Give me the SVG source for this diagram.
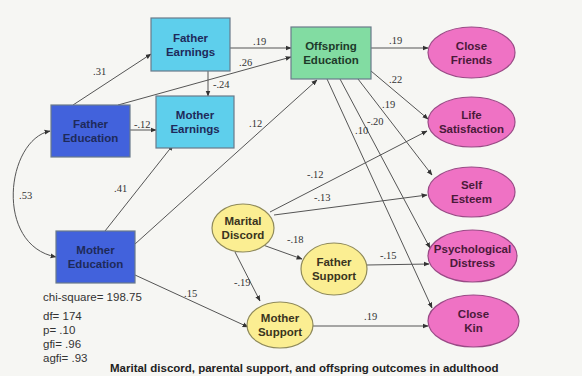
<svg xmlns="http://www.w3.org/2000/svg" width="582" height="376" viewBox="0 0 582 376">
<style>
.bg{fill:#f6f6f3}
.box{stroke:#6a7a8a;stroke-width:1.2}
.cyan{fill:#5ecfec}
.blue{fill:#4262dc}
.green{fill:#82dca2}
.pink{fill:#ef72c4;stroke:#9a4a86;stroke-width:1.2}
.yellow{fill:#fbee92;stroke:#8f8a5a;stroke-width:1.2}
.lbl{font-family:"Liberation Sans",Arial,sans-serif;font-weight:bold;font-size:11.5px;text-anchor:middle}
.dk{fill:#1e2a5a}
.pk{fill:#4a1a3a}
.yl{fill:#3a3420}
.e{fill:none;stroke:#555;stroke-width:1}
.w{font-family:"Liberation Serif","Times New Roman",serif;font-size:10.5px;fill:#333}
.stat{font-family:"Liberation Sans",Arial,sans-serif;font-size:11.5px;fill:#333}
.cap{font-family:"Liberation Sans",Arial,sans-serif;font-weight:bold;font-size:11.5px;fill:#222}
</style>
<defs>
<marker id="ah" viewBox="0 0 10 10" refX="9" refY="5" markerWidth="6" markerHeight="6" orient="auto-start-reverse" markerUnits="userSpaceOnUse">
<path d="M0,1 L10,5 L0,9 Z" fill="#333"/>
</marker>
</defs>
<rect class="bg" x="0" y="0" width="582" height="376"/>

<g id="connectors">
<path class="e" d="M73,105 L151,54" marker-end="url(#ah)"/>
<path class="e" d="M230,48 L291,48" marker-end="url(#ah)"/>
<path class="e" d="M118,105 L291,57" marker-end="url(#ah)"/>
<path class="e" d="M208,71 L208,96" marker-end="url(#ah)"/>
<path class="e" d="M130,130 L156,130" marker-end="url(#ah)"/>
<path class="e" d="M105,231 L173,145" marker-end="url(#ah)"/>
<path class="e" d="M135,244 L317,80" marker-end="url(#ah)"/>
<path class="e" d="M50,131 C6,140 -6,245 56,257" marker-start="url(#ah)" marker-end="url(#ah)"/>
<path class="e" d="M371,48 L428,48" marker-end="url(#ah)"/>
<path class="e" d="M371,71 L428,119" marker-end="url(#ah)"/>
<path class="e" d="M358,79 L432,175" marker-end="url(#ah)"/>
<path class="e" d="M340,79 L430,248" marker-end="url(#ah)"/>
<path class="e" d="M327,79 L432,308" marker-end="url(#ah)"/>
<path class="e" d="M270,212 L427,131" marker-end="url(#ah)"/>
<path class="e" d="M274,215 L427,195" marker-end="url(#ah)"/>
<path class="e" d="M263,245 L302,259" marker-end="url(#ah)"/>
<path class="e" d="M235,252 L260,301" marker-end="url(#ah)"/>
<path class="e" d="M367,265 L429,264" marker-end="url(#ah)"/>
<path class="e" d="M313,326 L428,326" marker-end="url(#ah)"/>
<path class="e" d="M135,275 L248,327" marker-end="url(#ah)"/>
<text class="w" x="93" y="75">.31</text>
<text class="w" x="253" y="45">.19</text>
<text class="w" x="239" y="66">.26</text>
<text class="w" x="213" y="88">-.24</text>
<text class="w" x="134" y="128">-.12</text>
<text class="w" x="249" y="127">.12</text>
<text class="w" x="114" y="192">.41</text>
<text class="w" x="19" y="199">.53</text>
<text class="w" x="389" y="44">.19</text>
<text class="w" x="389" y="83">.22</text>
<text class="w" x="382" y="108">.19</text>
<text class="w" x="367" y="125">-.20</text>
<text class="w" x="355" y="134">.10</text>
<text class="w" x="307" y="178">-.12</text>
<text class="w" x="314" y="201">-.13</text>
<text class="w" x="287" y="243">-.18</text>
<text class="w" x="234" y="286">-.19</text>
<text class="w" x="380" y="259">-.15</text>
<text class="w" x="364" y="320">.19</text>
<text class="w" x="184" y="297">.15</text>
</g>

<g id="father-earnings">
<rect class="box cyan" x="151" y="18" width="79" height="53"/>
<text class="lbl dk" x="190.5" y="42">Father</text>
<text class="lbl dk" x="190.5" y="56">Earnings</text>
</g>
<g id="father-education">
<rect class="box blue" x="51" y="105" width="79" height="52"/>
<text class="lbl dk" x="90.5" y="128">Father</text>
<text class="lbl dk" x="90.5" y="142">Education</text>
</g>
<g id="mother-earnings">
<rect class="box cyan" x="156" y="96" width="78" height="52"/>
<text class="lbl dk" x="195" y="119">Mother</text>
<text class="lbl dk" x="195" y="133">Earnings</text>
</g>
<g id="mother-education">
<rect class="box blue" x="56" y="231" width="79" height="52"/>
<text class="lbl dk" x="95.5" y="254">Mother</text>
<text class="lbl dk" x="95.5" y="268">Education</text>
</g>
<g id="offspring-education">
<rect class="box green" x="291" y="27" width="80" height="52"/>
<text class="lbl" fill="#1e3a2a" x="331" y="50">Offspring</text>
<text class="lbl" fill="#1e3a2a" x="331" y="64">Education</text>
</g>
<g id="close-friends">
<ellipse class="pink" cx="471.5" cy="52.5" rx="43.5" ry="25.5"/>
<text class="lbl pk" x="471.5" y="50">Close</text>
<text class="lbl pk" x="471.5" y="64">Friends</text>
</g>
<g id="life-satisfaction">
<ellipse class="pink" cx="471.5" cy="122" rx="43.5" ry="25"/>
<text class="lbl pk" x="471.5" y="119">Life</text>
<text class="lbl pk" x="471.5" y="133">Satisfaction</text>
</g>
<g id="self-esteem">
<ellipse class="pink" cx="471.5" cy="192" rx="43.5" ry="25"/>
<text class="lbl pk" x="471.5" y="189">Self</text>
<text class="lbl pk" x="471.5" y="203">Esteem</text>
</g>
<g id="psychological-distress">
<ellipse class="pink" cx="472.5" cy="256" rx="44.5" ry="26"/>
<text class="lbl pk" x="472.5" y="253">Psychological</text>
<text class="lbl pk" x="472.5" y="267">Distress</text>
</g>
<g id="close-kin">
<ellipse class="pink" cx="473.5" cy="321" rx="45.5" ry="26"/>
<text class="lbl pk" x="473.5" y="318">Close</text>
<text class="lbl pk" x="473.5" y="332">Kin</text>
</g>
<g id="marital-discord">
<ellipse class="yellow" cx="243" cy="228" rx="31" ry="24"/>
<text class="lbl yl" x="243" y="225">Marital</text>
<text class="lbl yl" x="243" y="239">Discord</text>
</g>
<g id="father-support">
<ellipse class="yellow" cx="334" cy="269" rx="33" ry="26"/>
<text class="lbl yl" x="334" y="266">Father</text>
<text class="lbl yl" x="334" y="280">Support</text>
</g>
<g id="mother-support">
<ellipse class="yellow" cx="280" cy="325" rx="33" ry="23"/>
<text class="lbl yl" x="280" y="322">Mother</text>
<text class="lbl yl" x="280" y="336">Support</text>
</g>

<g id="stats">
<text class="stat" x="43" y="301">chi-square= 198.75</text>
<text class="stat" x="43" y="320">df= 174</text>
<text class="stat" x="43" y="334">p= .10</text>
<text class="stat" x="43" y="348">gfi= .96</text>
<text class="stat" x="43" y="362">agfi= .93</text>
</g>
<text class="cap" x="110" y="372">Marital discord, parental support, and offspring outcomes in adulthood</text>
</svg>
